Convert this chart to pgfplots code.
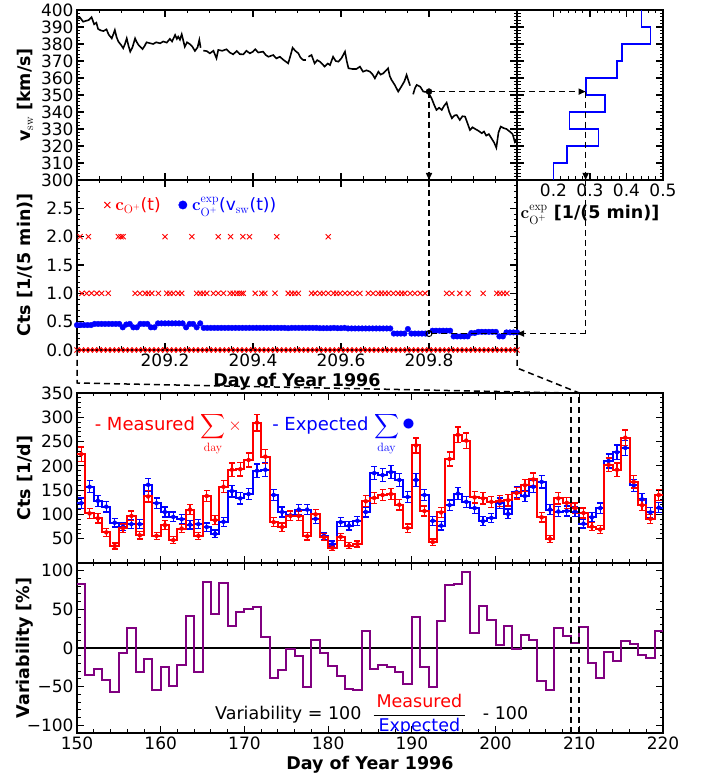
\documentclass[border=0pt]{standalone}
\usepackage{amsmath}
\usepackage{pgfplots}
\pgfplotsset{compat=1.18}
\usepackage{pgfplotstable}
\usepackage[no-math]{fontspec}
\setmainfont{DejaVu Sans}
\usetikzlibrary{arrows.meta}
\definecolor{myred}{RGB}{255,0,0}
\definecolor{myblue}{RGB}{0,0,255}
\definecolor{mypurple}{RGB}{128,0,128}

\pgfplotstableread{
day xc r re b be v
150 150.5 224 15.0 123 11.1 82.5
151 151.5 102 10.1 157 12.5 -34.6
152 152.5 92 9.6 128 11.3 -27.4
153 153.5 63 7.9 116 10.8 -41
154 154.5 35 5.9 83 9.1 -56.4
155 155.5 72 8.5 75 8.7 -6.4
156 156.5 97 9.8 80 8.9 26
157 157.5 57 7.5 80 8.9 -30.8
158 158.5 137 11.7 161 12.7 -14.5
159 159.5 56 7.5 123 11.1 -54.3
160 160.5 78 8.8 105 10.2 -25.2
161 161.5 47 6.9 95 9.7 -49
162 162.5 71 8.4 90 9.5 -21.4
163 163.5 110 10.5 79 8.9 41
164 164.5 56 7.5 80 8.9 -30.8
165 165.5 138 11.7 74 8.6 86
166 166.5 88 9.4 60 7.7 44
167 167.5 157 12.5 85 9.2 84.6
168 168.5 192 13.9 148 12.2 28.2
169 169.5 193 13.9 133 11.5 46
170 170.5 212 14.6 142 11.9 51
171 171.5 289 17.0 190 13.8 52.6
172 172.5 219 14.8 192 13.9 14.5
173 173.5 84 9.2 140 11.8 -39
174 174.5 74 8.6 105 10.2 -28.6
175 175.5 97 9.8 98 9.9 -1.3
176 176.5 97 9.8 110 10.5 -10.7
177 177.5 55 7.4 110 10.5 -50
178 178.5 100 10.0 91 9.5 10.7
179 179.5 53 7.3 56 7.5 -6.4
180 180.5 31 5.6 39 6.2 -23
181 181.5 54 7.3 84 9.2 -36
182 182.5 36 6.0 77 8.8 -53
183 183.5 39 6.2 87 9.3 -55
184 184.5 127 11.3 105 10.2 21.8
185 185.5 134 11.6 185 13.6 -27.4
186 186.5 140 11.8 181 13.5 -22
187 187.5 142 11.9 187 13.7 -24
188 188.5 120 11.0 171 13.1 -31
189 189.5 72 8.5 136 11.7 -46.6
190 190.5 242 15.6 171 13.1 40
191 191.5 107 10.3 140 11.8 -24
192 192.5 43 6.6 87 9.3 -50
193 193.5 104 10.2 77 8.8 35.5
194 194.5 214 14.6 119 10.9 81.6
195 195.5 264 16.2 143 12.0 82.5
196 196.5 252 15.9 126 11.2 98.7
197 197.5 135 11.6 113 10.6 18.8
198 198.5 133 11.5 86 9.3 54.7
199 199.5 126 11.2 93 9.6 35.9
200 200.5 128 11.3 123 11.1 3.8
201 201.5 129 11.4 101 10.0 28.2
202 202.5 144 12.0 146 12.1 -1.7
203 203.5 160 12.6 138 11.7 17
204 204.5 172 13.1 157 12.5 9.8
205 205.5 94 9.7 167 12.9 -43
206 206.5 50 7.1 110 10.5 -54
207 207.5 133 11.5 106 10.3 26
208 208.5 124 11.1 107 10.3 16
209 209.5 113 10.6 106 10.3 6.8
210 210.5 103 10.1 81 9.0 27
211 211.5 75 8.7 94 9.7 -20
212 212.5 69 8.3 113 10.6 -39
213 213.5 202 14.2 210 14.5 -4.7
214 214.5 192 13.9 228 15.1 -16.7
215 215.5 258 16.1 237 15.4 9
216 216.5 167 12.9 160 12.6 4.7
217 217.5 119 10.9 131 11.4 -9.4
218 218.5 91 9.5 104 10.2 -12.4
219 219.5 140 11.8 114 10.7 22.6
220 220.5 140 0 114 0 22.6
}\daily

\pgfplotstableread{
t v
209.000 394.7
209.007 395.5
209.014 393.1
209.020 393.6
209.026 394.0
209.033 395.8
209.039 391.6
209.044 392.5
209.048 388.8
209.054 388.0
209.060 387.6
209.067 388.6
209.072 385.5
209.079 383.3
209.083 386.0
209.086 388.2
209.090 384.0
209.094 381.4
209.100 379.5
209.105 377.5
209.109 380.0
209.113 383.3
209.117 379.0
209.121 375.5
209.126 378.0
209.132 383.3
209.136 381.0
209.140 379.4
209.145 378.0
209.149 377.0
209.154 379.0
209.158 381.0
209.165 380.5
209.173 380.0
209.180 381.0
209.189 380.4
209.196 381.5
209.204 380.8
209.211 383.0
209.216 381.5
209.223 385.3
209.227 383.0
209.230 384.3
209.234 382.5
209.238 385.7
209.245 378.4
209.250 381.0
209.257 379.8
209.262 378.5
209.268 375.9
209.274 378.0
209.278 382.4
209.281 377.8
209.284 nan
209.287 376.1
209.295 375.8
209.302 374.5
209.310 376.0
209.317 371.6
209.321 376.5
209.330 376.0
209.340 376.9
209.347 375.0
209.355 373.9
209.363 375.9
209.370 374.0
209.378 373.9
209.385 376.0
209.393 374.5
209.400 375.5
209.405 376.9
209.412 375.0
209.423 375.5
209.429 373.5
209.435 372.5
209.446 373.5
209.453 371.5
209.461 372.5
209.470 370.5
209.480 368.6
209.485 373.0
209.490 377.8
209.496 376.0
209.503 374.5
209.508 372.0
209.514 370.6
209.520 370.6
209.523 nan
209.526 372.5
209.533 373.5
209.540 368.6
209.546 370.5
209.552 369.6
209.558 368.0
209.563 366.7
209.570 368.5
209.575 367.6
209.582 372.5
209.588 370.0
209.594 369.6
209.601 371.6
209.609 375.5
209.613 370.0
209.617 365.7
209.626 365.3
209.635 365.3
209.643 366.7
209.650 363.7
209.658 364.5
209.666 363.7
209.672 362.0
209.677 359.8
209.685 363.7
209.690 362.0
209.696 362.7
209.707 365.7
209.711 361.0
209.715 358.8
209.722 356.0
209.730 352.0
209.737 354.9
209.744 358.0
209.749 361.8
209.757 355.5
209.760 nan
209.764 350.4
209.768 354.0
209.772 355.9
209.780 354.9
209.787 352.0
209.798 351.6
209.806 348.0
209.812 344.0
209.817 341.2
209.823 342.5
209.829 341.2
209.834 343.5
209.840 345.5
209.846 340.0
209.852 336.3
209.858 338.0
209.863 338.2
209.870 335.3
209.876 337.5
209.882 337.3
209.888 333.0
209.893 329.4
209.899 331.0
209.905 330.0
209.912 329.0
209.920 327.5
209.925 328.5
209.930 326.1
209.936 327.0
209.942 324.5
209.948 322.0
209.953 319.0
209.958 328.0
209.963 331.4
209.970 330.5
209.976 330.0
209.984 328.4
209.990 327.0
209.995 322.5
210.000 324.5
}\vsw

\pgfplotstableread{
t c
209.007 2
209.026 2
209.094 2
209.100 2
209.105 2
209.200 2
209.261 2
209.321 2
209.349 2
209.377 2
209.392 2
209.454 2
209.571 2
209.011 1
209.022 1
209.033 1
209.045 1
209.056 1
209.071 1
209.132 1
209.143 1
209.155 1
209.162 1
209.170 1
209.185 1
209.204 1
209.211 1
209.219 1
209.230 1
209.238 1
209.272 1
209.280 1
209.287 1
209.295 1
209.310 1
209.321 1
209.333 1
209.348 1
209.355 1
209.363 1
209.369 1
209.374 1
209.378 1
209.405 1
209.420 1
209.427 1
209.450 1
209.480 1
209.488 1
209.495 1
209.503 1
209.533 1
209.541 1
209.552 1
209.560 1
209.571 1
209.583 1
209.590 1
209.598 1
209.609 1
209.620 1
209.632 1
209.643 1
209.662 1
209.673 1
209.685 1
209.692 1
209.700 1
209.708 1
209.719 1
209.730 1
209.738 1
209.745 1
209.757 1
209.768 1
209.780 1
209.791 1
209.840 1
209.852 1
209.870 1
209.889 1
209.923 1
209.954 1
209.961 1
209.969 1
209.977 1
209.00 0
209.01 0
209.02 0
209.03 0
209.04 0
209.05 0
209.06 0
209.07 0
209.08 0
209.09 0
209.10 0
209.11 0
209.12 0
209.13 0
209.14 0
209.15 0
209.16 0
209.17 0
209.18 0
209.19 0
209.20 0
209.21 0
209.22 0
209.23 0
209.24 0
209.25 0
209.26 0
209.27 0
209.28 0
209.29 0
209.30 0
209.31 0
209.32 0
209.33 0
209.34 0
209.35 0
209.36 0
209.37 0
209.38 0
209.39 0
209.40 0
209.41 0
209.42 0
209.43 0
209.44 0
209.45 0
209.46 0
209.47 0
209.48 0
209.49 0
209.50 0
209.51 0
209.52 0
209.53 0
209.54 0
209.55 0
209.56 0
209.57 0
209.58 0
209.59 0
209.60 0
209.61 0
209.62 0
209.63 0
209.64 0
209.65 0
209.66 0
209.67 0
209.68 0
209.69 0
209.70 0
209.71 0
209.72 0
209.73 0
209.74 0
209.75 0
209.76 0
209.77 0
209.78 0
209.79 0
209.80 0
209.81 0
209.82 0
209.83 0
209.84 0
209.85 0
209.86 0
209.87 0
209.88 0
209.89 0
209.90 0
209.91 0
209.92 0
209.93 0
209.94 0
209.95 0
209.96 0
209.97 0
209.98 0
209.99 0
210.00 0
}\meas

\pgfplotstableread{
t c
209.000 0.44
209.008 0.44
209.016 0.44
209.024 0.44
209.032 0.44
209.040 0.46
209.048 0.46
209.056 0.46
209.064 0.46
209.072 0.46
209.080 0.46
209.088 0.46
209.096 0.46
209.104 0.40
209.112 0.45
209.120 0.46
209.128 0.40
209.136 0.40
209.144 0.46
209.152 0.46
209.160 0.46
209.168 0.40
209.176 0.40
209.184 0.47
209.192 0.47
209.200 0.47
209.208 0.47
209.216 0.47
209.224 0.47
209.232 0.47
209.240 0.47
209.248 0.40
209.256 0.46
209.264 0.46
209.272 0.40
209.280 0.47
209.288 0.39
209.296 0.39
209.304 0.39
209.312 0.39
209.320 0.39
209.328 0.39
209.336 0.39
209.344 0.39
209.352 0.39
209.360 0.39
209.368 0.39
209.376 0.39
209.384 0.39
209.392 0.39
209.400 0.39
209.408 0.39
209.416 0.39
209.424 0.39
209.432 0.39
209.440 0.39
209.448 0.39
209.456 0.39
209.464 0.39
209.472 0.39
209.480 0.385
209.488 0.39
209.496 0.39
209.504 0.39
209.512 0.39
209.520 0.39
209.528 0.39
209.536 0.39
209.544 0.39
209.552 0.385
209.560 0.385
209.568 0.385
209.576 0.385
209.584 0.39
209.592 0.385
209.600 0.385
209.608 0.39
209.616 0.38
209.624 0.38
209.632 0.38
209.640 0.38
209.648 0.38
209.656 0.38
209.664 0.38
209.672 0.38
209.680 0.38
209.688 0.38
209.696 0.38
209.704 0.38
209.712 0.38
209.720 0.29
209.728 0.29
209.736 0.29
209.744 0.29
209.752 0.37
209.760 0.29
209.768 0.29
209.776 0.29
209.784 0.29
209.792 0.29
209.808 0.34
209.816 0.34
209.824 0.34
209.832 0.34
209.840 0.34
209.848 0.34
209.856 0.24
209.864 0.24
209.872 0.24
209.880 0.24
209.888 0.24
209.896 0.30
209.904 0.30
209.912 0.32
209.920 0.32
209.928 0.32
209.936 0.32
209.944 0.32
209.952 0.32
209.960 0.24
209.968 0.24
209.976 0.31
209.984 0.31
209.992 0.31
210.000 0.31
}\expt

\pgfplotsset{
  every axis/.append style={
    scale only axis,
    tick align=inside,
    major tick length=7pt,
    minor tick length=3.5pt,
    every major tick/.append style={black, line width=1.2pt},
    every minor tick/.append style={black, line width=0.9pt},
    axis line style={line width=1.6pt},
    tick label style={font=\fontsize{17}{20}\selectfont},
    label style={font=\bfseries\fontsize{17.5}{21}\selectfont},
  },
}

\begin{document}
\begin{tikzpicture}
\useasboundingbox (0,0) rectangle (703pt,778pt);

% ---------- top left: solar wind speed ----------
\begin{axis}[
  at={(77pt,598pt)}, anchor=south west,
  width=440pt, height=170pt,
  xmin=209, xmax=210, ymin=300, ymax=400,
  xtick={209,209.2,209.4,209.6,209.8,210}, xticklabels={},
  minor x tick num=3,
  ytick={300,310,320,330,340,350,360,370,380,390,400},
  yticklabels={300,310,320,330,340,350,360,370,380,390,400},
  minor y tick num=4,
  ylabel={v$_{\mathrm{sw}}$ [km/s]},
  ylabel style={at={(axis description cs:-0.118,0.5)}, anchor=center},
]
\addplot[black, line width=1.6pt, unbounded coords=jump] table[x=t, y=v] {\vsw};
\addplot[only marks, mark=*, mark size=3pt, black] coordinates {(209.8,352)};
\coordinate (P) at (axis cs:209.8,352);
\coordinate (Pb) at (axis cs:209.8,300);
\end{axis}

% ---------- top right: expected count rate vs speed ----------
\begin{axis}[
  at={(517pt,598pt)}, anchor=south west,
  width=146pt, height=170pt,
  xmin=0.1, xmax=0.5, ymin=300, ymax=400,
  xtick={0.2,0.3,0.4,0.5}, xticklabels={0.2,0.3,0.4,0.5},
  minor x tick num=4,
  ytick={300,310,320,330,340,350,360,370,380,390,400}, yticklabels={},
  minor y tick num=4,
  xlabel={$\mathbf{c}^{\mathrm{exp}}_{\mathrm{O}^+}$ [1/(5 min)]},
  xlabel style={yshift=-2pt},
]
\addplot[myblue, line width=1.8pt] coordinates {
(0.200,300) (0.200,310) (0.237,310) (0.237,320) (0.323,320) (0.323,330)
(0.244,330) (0.244,340) (0.341,340) (0.341,350) (0.288,350) (0.288,360)
(0.374,360) (0.374,370) (0.388,370) (0.388,380) (0.466,380) (0.466,390)
(0.441,390) (0.441,400)};
\coordinate (H) at (axis cs:0.288,352);
\coordinate (Hb) at (axis cs:0.288,300);
\end{axis}

% ---------- middle: 5-min counts ----------
\begin{axis}[
  at={(77pt,428pt)}, anchor=south west,
  width=440pt, height=170pt,
  xmin=209, xmax=210, ymin=0, ymax=3,
  xtick={209,209.2,209.4,209.6,209.8,210},
  xticklabels={,209.2,209.4,209.6,209.8,},
  minor x tick num=3,
  ytick={0,0.5,1,1.5,2,2.5,3},
  yticklabels={0.0,0.5,1.0,1.5,2.0,2.5,},
  minor y tick num=4,
  xlabel={Day of Year 1996},
  xlabel style={yshift=0pt},
  ylabel={Cts [1/(5 min)]},
  ylabel style={at={(axis description cs:-0.118,0.5)}, anchor=center},
  legend style={at={(0.055,0.853)}, anchor=west, draw=none, fill=none,
    font=\fontsize{17}{20}\selectfont, legend columns=2,
    /tikz/every odd column/.append style={column sep=3pt},
    /tikz/every even column/.append style={column sep=16pt}},
  legend image post style={mark size=4.2pt},
]
\addplot[only marks, mark=x, mark size=3.6pt, myred, line width=0.9pt] table[x=t, y=c] {\meas};
\addlegendentry{\textcolor{myred}{$\mathbf{c}_{\mathrm{O}^+}$(t)}}
\addplot[only marks, mark=*, mark size=2.8pt, myblue] table[x=t, y=c] {\expt};
\addlegendentry{\textcolor{myblue}{$\mathbf{c}^{\mathrm{exp}}_{\mathrm{O}^+}$(v$_{\mathrm{sw}}$(t))}}
\addplot[only marks, mark=o, mark size=3pt, black, line width=1pt, forget plot] coordinates {(209.8,0.29)};
\coordinate (C) at (axis cs:209.8,0.29);
\coordinate (Ct) at (axis cs:209.8,3);
\coordinate (Cr) at (axis cs:210,0.29);
\coordinate (M0) at (axis cs:209,0);
\coordinate (M1) at (axis cs:210,0);
\end{axis}

% ---------- lower: daily counts ----------
\begin{axis}[
  at={(77pt,215pt)}, anchor=south west,
  width=586pt, height=170pt,
  xmin=150, xmax=220, ymin=0, ymax=350,
  xtick={150,160,170,180,190,200,210,220}, xticklabels={},
  minor x tick num=4,
  ytick={50,100,150,200,250,300,350},
  yticklabels={50,100,150,200,250,300,350},
  minor y tick num=4,
  ylabel={Cts [1/d]},
  ylabel style={at={(axis description cs:-0.0887,0.5)}, anchor=center},
]
\addplot[myblue, line width=2pt, const plot mark left] table[x=day, y=b] {\daily};
\addplot[myblue, only marks, mark=none, restrict x to domain=150:220,
  error bars/.cd, y dir=both, y explicit,
  error bar style={myblue, line width=1.3pt},
  error mark options={myblue, rotate=90, mark size=3pt, line width=1.3pt}]
  table[x=xc, y=b, y error=be] {\daily};
\addplot[myred, line width=2pt, const plot mark left] table[x=day, y=r] {\daily};
\addplot[myred, only marks, mark=none, restrict x to domain=150:220,
  error bars/.cd, y dir=both, y explicit,
  error bar style={myred, line width=1.3pt},
  error mark options={myred, rotate=90, mark size=3pt, line width=1.3pt}]
  table[x=xc, y=r, y error=re] {\daily};
\addplot[black, line width=1.6pt, dash pattern=on 6pt off 4pt] coordinates {(209,0) (209,350)};
\addplot[black, line width=1.6pt, dash pattern=on 6pt off 4pt] coordinates {(210,0) (210,350)};
\node[anchor=west, myred, font=\fontsize{18}{21}\selectfont, inner sep=0pt] at (axis cs:152.1,266)
  {- Measured $\displaystyle\sum_{\mathrm{day}}\times$};
\node[anchor=west, myblue, font=\fontsize{18}{21}\selectfont, inner sep=0pt] at (axis cs:173.3,266)
  {- Expected $\displaystyle\sum_{\mathrm{day}}\scalebox{1.5}{$\bullet$}$};
\coordinate (D0) at (axis cs:209,350);
\coordinate (D1) at (axis cs:210,350);
\end{axis}

% ---------- bottom: variability ----------
\begin{axis}[
  at={(77pt,45pt)}, anchor=south west,
  width=586pt, height=170pt,
  xmin=150, xmax=220, ymin=-110, ymax=110,
  xtick={150,160,170,180,190,200,210,220},
  xticklabels={150,160,170,180,190,200,210,220},
  minor x tick num=4,
  ytick={-100,-50,0,50,100},
  yticklabels={−100,−50,0,50,100},
  minor y tick num=4,
  xlabel={Day of Year 1996},
  xlabel style={yshift=0pt},
  ylabel={Variability [\%]},
  ylabel style={at={(axis description cs:-0.0887,0.5)}, anchor=center},
]
\addplot[black, line width=1.4pt] coordinates {(150,0) (220,0)};
\addplot[mypurple, line width=2pt, const plot mark left] table[x=day, y=v] {\daily};
\addplot[black, line width=1.6pt, dash pattern=on 6pt off 4pt] coordinates {(209,-110) (209,110)};
\addplot[black, line width=1.6pt, dash pattern=on 6pt off 4pt] coordinates {(210,-110) (210,110)};
\node[font=\fontsize{17.5}{20}\selectfont, inner sep=0pt] at (axis cs:185.2,-86)
  {Variability = 100\ \ $\displaystyle\frac{\mbox{\,\color{myred}Measured\,}}{\mbox{\color{myblue}Expected}}$\ \ \ - 100};
\end{axis}

% ---------- connectors ----------
\begin{scope}[black, line width=1.5pt, dash pattern=on 6pt off 4pt]
\draw[-{Triangle[length=7pt,width=6pt]}] (P) -- (H);
\draw[-{Triangle[length=7pt,width=6pt]}] (P) -- (Pb);
\draw (Pb) -- (C);
\draw[-{Triangle[length=7pt,width=6pt]}] (H) -- (Hb);
\draw (Hb) -- (Hb |- Cr);
\draw[-{Triangle[length=7pt,width=6pt]}] (Hb |- Cr) -- (Cr);
\draw (Cr) -- (C);
\draw (M0) -- ([yshift=-33pt]M0) -- (D0);
\draw (M1) -- ([yshift=-18pt]M1) -- (D1);
\end{scope}
\end{tikzpicture}
\end{document}
